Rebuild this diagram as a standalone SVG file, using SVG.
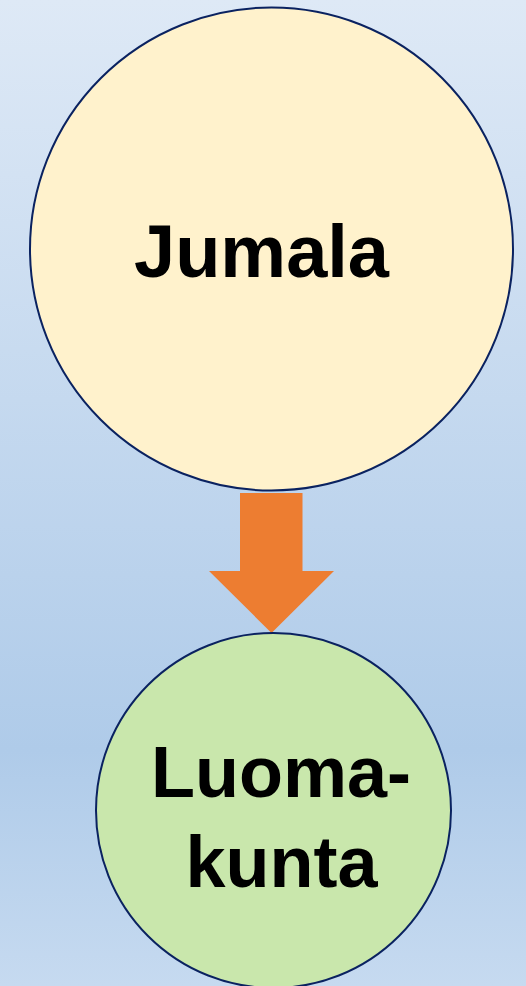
<svg xmlns="http://www.w3.org/2000/svg" width="526" height="986" viewBox="0 0 526 986">
<style>
.node{stroke:#0a2260;stroke-width:2}
.lbl{font-family:"Liberation Sans",Arial,sans-serif;font-weight:bold;fill:#000;text-anchor:middle}
</style>
<defs>
<linearGradient id="bg" x1="0" y1="0" x2="0" y2="1">
<stop offset="0" stop-color="#dee9f6"/>
<stop offset="0.76" stop-color="#afcbe9"/>
<stop offset="1" stop-color="#c6daf0"/>
</linearGradient>
</defs>
<rect x="0" y="0" width="526" height="986" fill="url(#bg)"/>
<g id="connectors">
<polygon points="240,493 302.5,493 302.5,571 334,571 271.5,633 209,571 240,571" fill="#ed7d31"/>
</g>
<g id="jumala">
<circle class="node" cx="271.5" cy="249" r="241.5" fill="#fff2cc"/>
<text class="lbl" x="261.5" y="277" font-size="74">Jumala</text>
</g>
<g id="luomakunta">
<circle class="node" cx="273.5" cy="810.5" r="177.5" fill="#c9e7ac"/>
<text class="lbl" x="281" y="797" font-size="72">Luoma-</text>
<text class="lbl" x="281.5" y="887" font-size="72">kunta</text>
</g>
</svg>
